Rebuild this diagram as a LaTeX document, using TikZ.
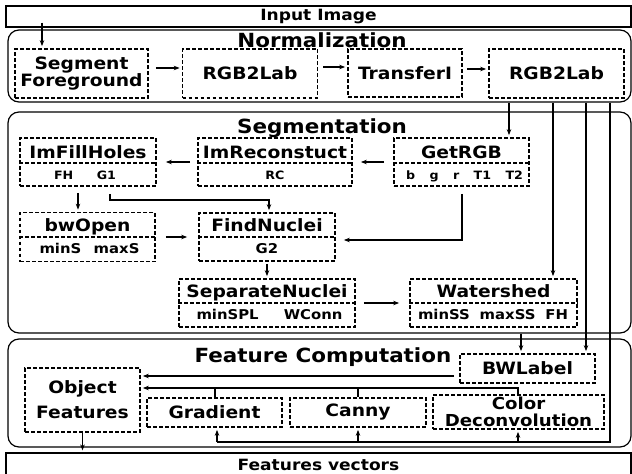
\documentclass[tikz,border=0pt]{standalone}
\usepackage{fontspec}
\setmainfont{DejaVu Sans}[FakeStretch=1.1]
\usetikzlibrary{arrows.meta}

\begin{document}
\begin{tikzpicture}[x=1pt,y=-1pt,
  >={Stealth[length=6pt,width=4.5pt]},
  stage/.style={draw,line width=1.2pt,rounded corners=11pt,inner sep=0pt},
  iobox/.style={draw,line width=1.2pt,inner sep=0pt,font=\fontsize{15.5}{17}\selectfont\bfseries},
  dbox/.style={draw,line width=1.7pt,dash pattern=on 3.6pt off 2.4pt,inner sep=0pt,align=center,font=\fontsize{17}{18}\selectfont\bfseries},
  head/.style={font=\fontsize{19.5}{21}\selectfont\bfseries,text height=14pt,text depth=0pt,inner sep=0pt},
  boxtext/.style={font=\fontsize{17}{18}\selectfont\bfseries,text height=12.4pt,text depth=0pt,inner sep=0pt},
  param/.style={font=\fontsize{13.5}{15}\selectfont\bfseries,text height=9.8pt,text depth=0pt,inner sep=0pt},
  parsmall/.style={font=\fontsize{11.5}{13}\selectfont\bfseries,text height=8.4pt,text depth=0pt,inner sep=0pt},
  cutline/.style={line width=1.7pt,dash pattern=on 3.6pt off 2.4pt},
  flow/.style={->,line width=1.7pt,shorten >=2pt},
  wire/.style={line width=1.7pt}]
\useasboundingbox (0,0) rectangle (632,474);

% frames
\node[iobox,minimum width=625pt,minimum height=21pt] (input) at (318.5,16.5) {Input Image};
\node[stage,minimum width=623pt,minimum height=72pt] (norm) at (319.5,66) {};
\node[stage,minimum width=623pt,minimum height=221pt] (seg) at (319.5,222.5) {};
\node[stage,minimum width=623pt,minimum height=108pt] (feat) at (319.5,393) {};
\node[iobox,minimum width=625pt,minimum height=24pt] (output) at (318.5,465) {Features vectors};
\node[head] (normT) at (322,40.5) {Normalization};
\node[head] (segT) at (322,126.5) {Segmentation};
\node[head] (featT) at (323,355) {Feature Computation};

% normalization
\node[dbox,minimum width=133pt,minimum height=49pt,font=\fontsize{17}{17}\selectfont\bfseries] (segfg) at (81.5,73.5) {Segment\\Foreground};
\node[dbox,minimum width=135pt,minimum height=49pt] (rgbA) at (250,73.5) {RGB2Lab};
\node[dbox,minimum width=114pt,minimum height=48pt] (transfer) at (405,73) {TransferI};
\node[dbox,minimum width=135pt,minimum height=49pt] (rgbB) at (556.5,73.5) {RGB2Lab};

% segmentation
\node[dbox,minimum width=136pt,minimum height=48pt] (fill) at (88,162) {};
\draw[cutline] (fill.west |- 0,163) -- (fill.east |- 0,163);
\node[boxtext] (fillT) at (88,152) {ImFillHoles};
\node[parsmall] (fillP) at (85,175) {\hbox to 62pt{FH\hfill G1}};

\node[dbox,minimum width=154pt,minimum height=48pt] (imrec) at (275,162) {};
\draw[cutline] (imrec.west |- 0,163) -- (imrec.east |- 0,163);
\node[boxtext] (imrecT) at (275,152) {ImReconstuct};
\node[parsmall] (imrecP) at (275,175) {RC};

\node[dbox,minimum width=135pt,minimum height=48pt] (getrgb) at (461.5,162) {};
\draw[cutline] (getrgb.west |- 0,163) -- (getrgb.east |- 0,163);
\node[boxtext] (getrgbT) at (461.5,152) {GetRGB};
\node[parsmall] (getrgbP) at (464.5,175) {\hbox to 117pt{b\hfill g\hfill r\hfill T1\hfill T2}};

\node[dbox,minimum width=135pt,minimum height=49pt] (bwopen) at (87.5,237) {};
\draw[cutline] (bwopen.west |- 0,237) -- (bwopen.east |- 0,237);
\node[boxtext] (bwopenT) at (87.5,225) {bwOpen};
\node[param] (bwopenP) at (89.5,249) {\hbox to 100pt{minS\hfill maxS}};

\node[dbox,minimum width=136pt,minimum height=48pt] (findnuc) at (267,237) {};
\draw[cutline] (findnuc.west |- 0,237) -- (findnuc.east |- 0,237);
\node[boxtext] (findnucT) at (267,225.5) {FindNuclei};
\node[param] (findnucP) at (267,249) {G2};

\node[dbox,minimum width=176pt,minimum height=48pt] (sepnuc) at (267,303) {};
\draw[cutline] (sepnuc.west |- 0,303) -- (sepnuc.east |- 0,303);
\node[boxtext] (sepnucT) at (267,291.5) {SeparateNuclei};
\node[param] (sepnucP) at (269.5,315) {\hbox to 146pt{minSPL\hfill WConn}};

\node[dbox,minimum width=167pt,minimum height=48pt] (water) at (493.5,303) {};
\draw[cutline] (water.west |- 0,303) -- (water.east |- 0,303);
\node[boxtext] (waterT) at (493.5,291.5) {Watershed};
\node[param] (waterP) at (493,315) {\hbox to 150pt{minSS\hfill maxSS\hfill FH}};

% feature computation
\node[dbox,minimum width=135pt,minimum height=29pt] (bwlabel) at (527.5,368.5) {BWLabel};
\node[dbox,minimum width=115pt,minimum height=64pt,font=\fontsize{17}{25}\selectfont\bfseries] (objfeat) at (82.5,400) {Object\\Features};
\node[dbox,minimum width=135pt,minimum height=29pt] (grad) at (214.5,412.5) {Gradient};
\node[dbox,minimum width=136pt,minimum height=29pt] (canny) at (358,412.5) {Canny};
\node[dbox,minimum width=171pt,minimum height=34pt,font=\fontsize{16.5}{16.5}\selectfont\bfseries] (deconv) at (518.5,412) {Color\\Deconvolution};
\coordinate (bus) at (217,442);

% normalization flow
\draw[flow,shorten <=-5pt] (input.south -| 42,0) -- (segfg.north -| 42,0);
\draw[flow,shorten <=7pt] (segfg.east |- 0,68) -- (rgbA.west |- 0,68);
\draw[flow,shorten <=5pt] (rgbA.east |- 0,67) -- (transfer.west |- 0,67);
\draw[flow,shorten <=4pt] (transfer.east |- 0,69) -- (rgbB.west |- 0,69);

% taps below normalization
\draw[flow] (norm.south -| 509,0) -- (getrgb.north -| 509,0);
\draw[flow] (norm.south -| 553,0) -- (water.north -| 553,0);
\draw[flow] (norm.south -| 586,0) -- (bwlabel.north -| 586,0);
\draw[wire] (norm.south -| 610,0) |- (bus);

% segmentation flow
\draw[flow,shorten <=9pt,shorten >=8pt] (getrgb.west |- 0,162) -- (imrec.east |- 0,162);
\draw[flow,shorten <=7pt,shorten >=9pt] (imrec.west |- 0,162) -- (fill.east |- 0,162);
\draw[flow,shorten <=6pt] (fill.south -| 78,0) -- (bwopen.north -| 78,0);
\draw[flow] (fill.south -| 110,0) ++(0,7) |- (269,200) -- (findnuc.north -| 269,0);
\draw[flow,shorten >=8pt] (getrgb.south -| 462,0) ++(0,7) |- ([yshift=-3pt]findnuc.east);
\draw[flow,shorten <=10pt,shorten >=11pt] (bwopen) -- (findnuc);
\draw[flow,shorten <=2pt] (findnuc) -- (sepnuc);
\draw[flow,shorten <=8pt,shorten >=10pt] (sepnuc) -- (water);
\draw[flow] (seg.south -| 521,0) -- (bwlabel.north -| 521,0);

% feature flow
\draw[flow,shorten <=5pt] (bwlabel.west |- 0,376) -- (objfeat.east |- 0,376);
\draw[flow] (deconv.north -| 518,0) |- ([yshift=12pt]objfeat.east);
\draw[wire] (grad.north -| 215,0) -- ++(0,-10);
\draw[wire] (canny.north -| 358,0) -- ++(0,-10);
\draw[flow] (bus) -- (grad.south -| bus);
\draw[flow] (bus -| 358,0) -- (canny.south -| 358,0);
\draw[flow] (bus -| 518,0) -- (deconv.south -| 518,0);
\draw[flow] (objfeat.south) -- (objfeat.south |- output.north);
\end{tikzpicture}
\end{document}
